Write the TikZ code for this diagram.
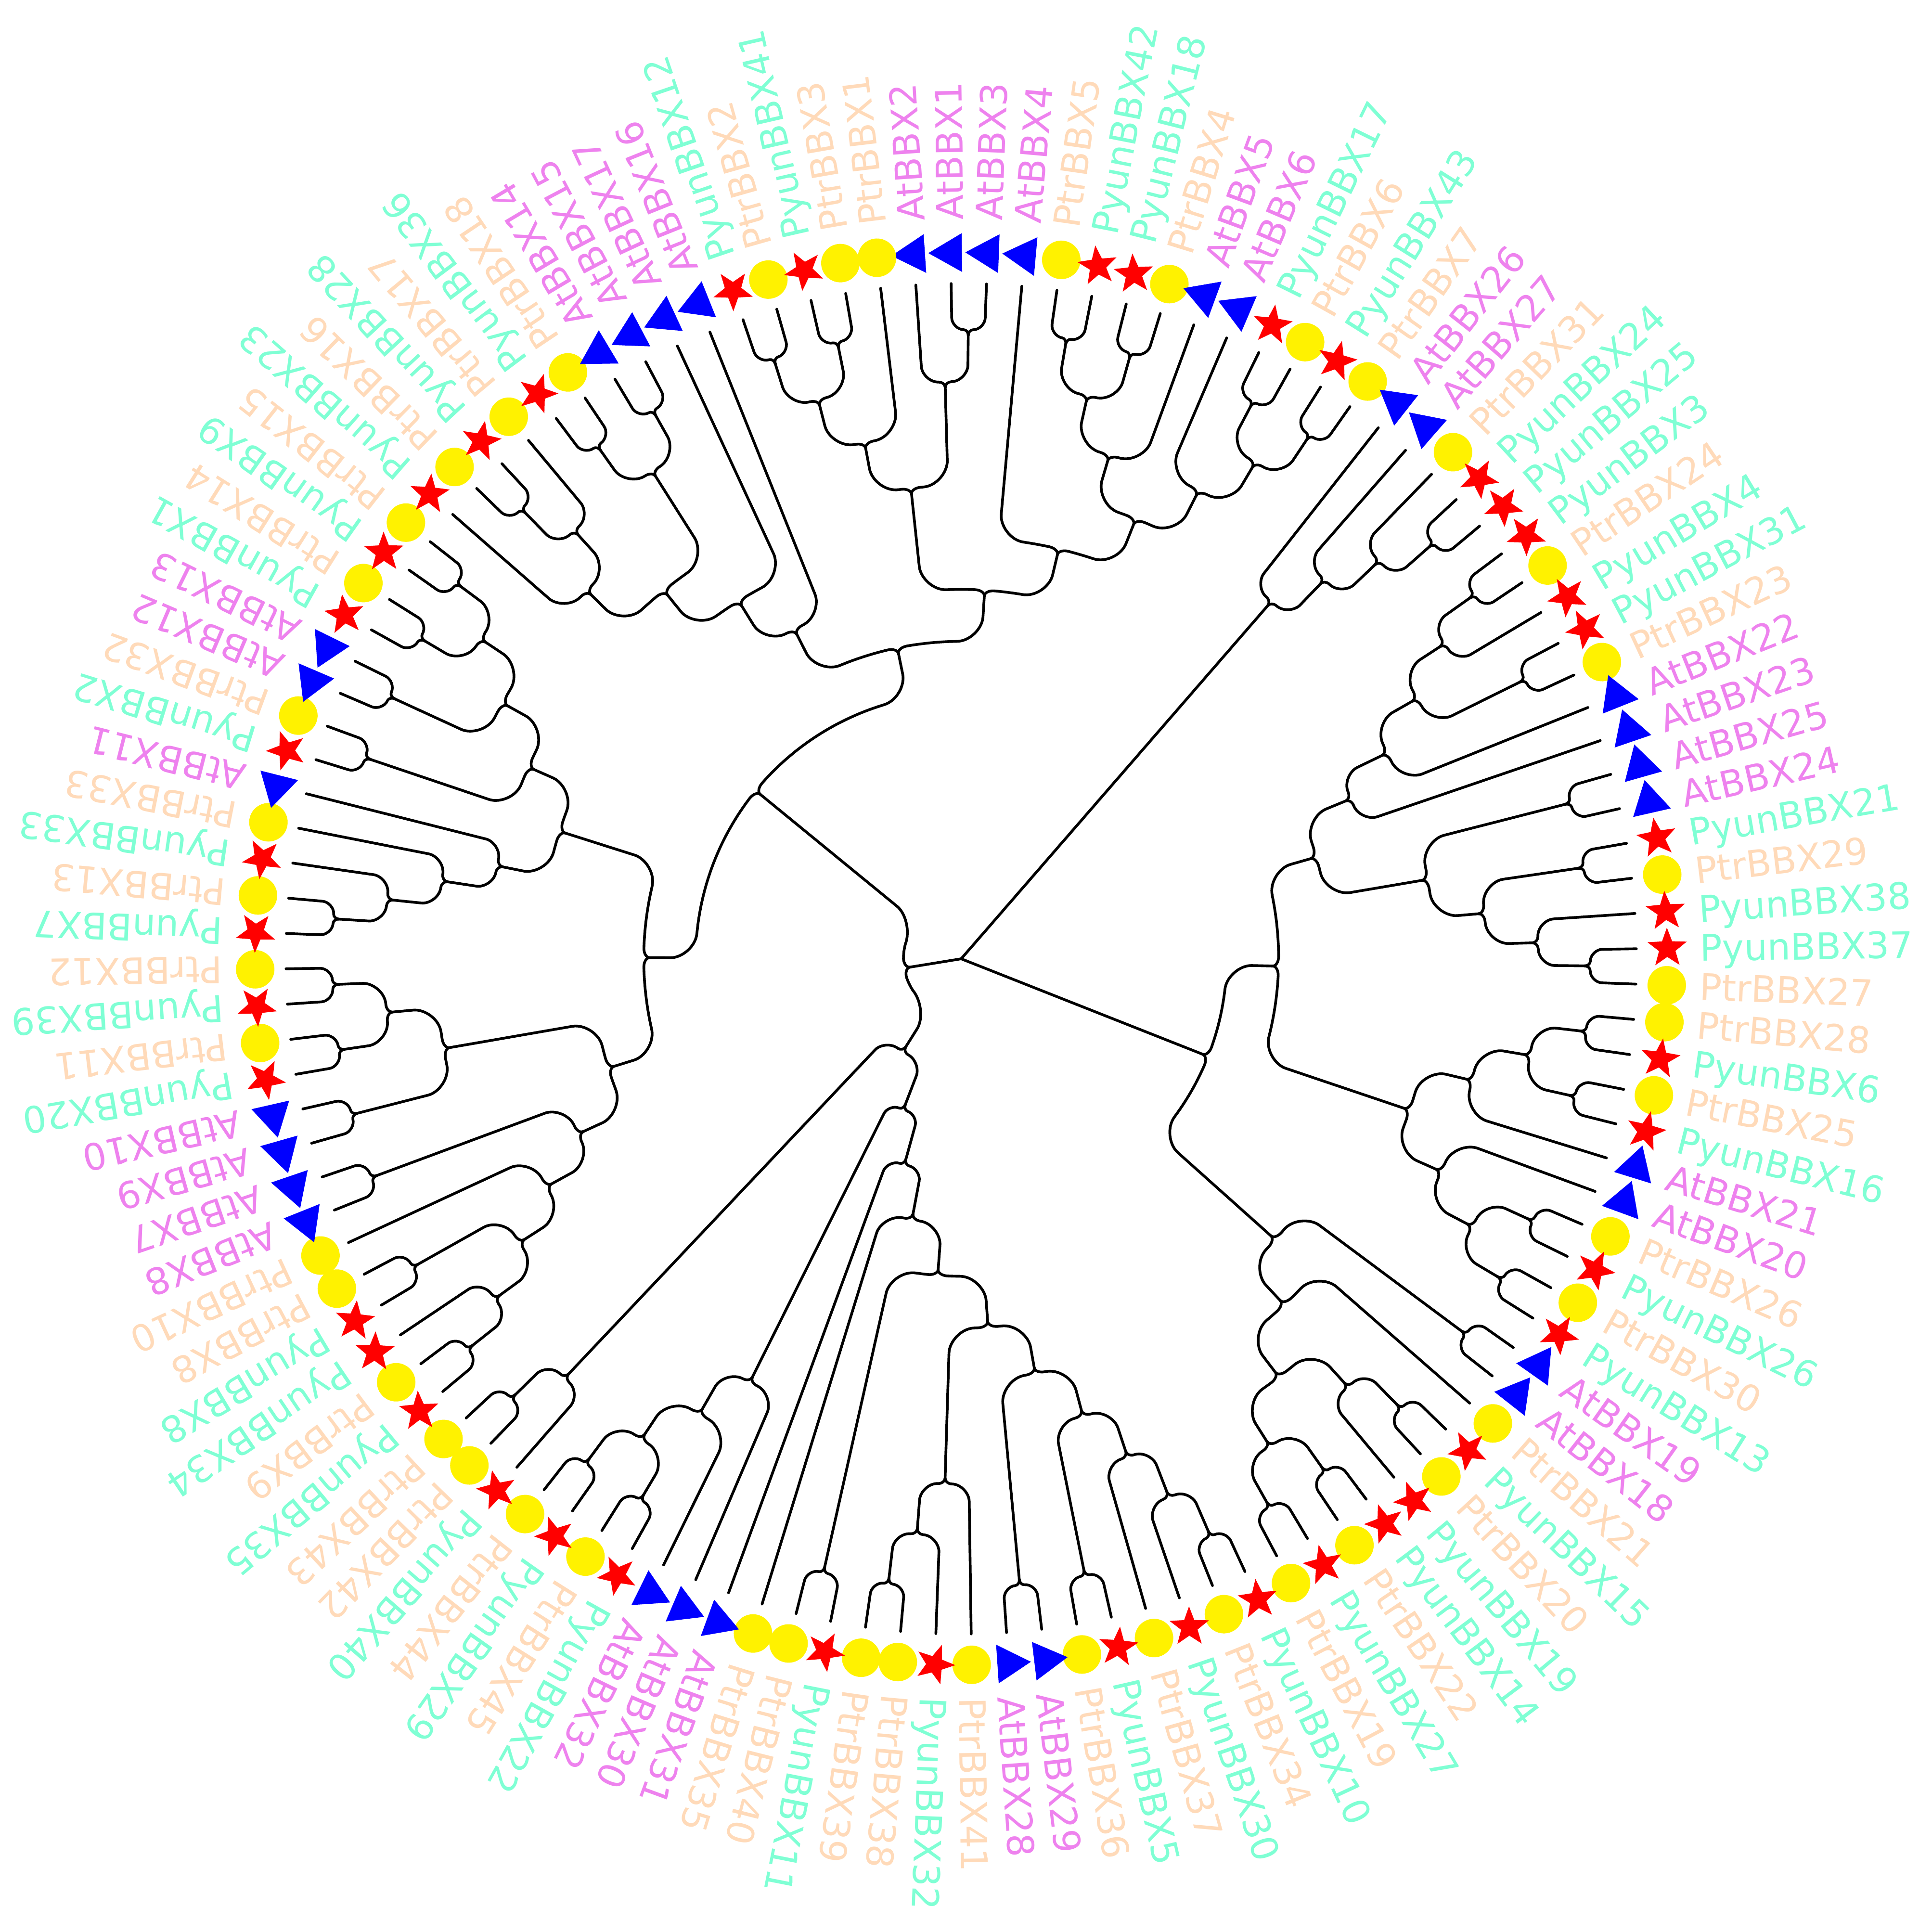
\documentclass[tikz,border=0pt]{standalone}
\usepackage{fontspec}
\setmainfont{DejaVu Sans}
\usetikzlibrary{shapes.geometric}
\definecolor{cola}{HTML}{EE82EE}
\definecolor{colp}{HTML}{FFDAB9}
\definecolor{coly}{HTML}{7FFFD4}
\newcommand\TRang[1]{\csname tra-#1\endcsname}
\newcommand\TRhgt[1]{\csname trh-#1\endcsname}
\newcommand\TRrad[1]{\csname trr-#1\endcsname}
\newcommand\TRleaf[3]{%
  \expandafter\xdef\csname tra-l#1\endcsname{\fpeval{96.85-3*(#1+120*(#1<15))}}%
  \expandafter\xdef\csname trh-l#1\endcsname{0}%
  \expandafter\xdef\csname trr-l#1\endcsname{14.03}%
  \coordinate (l#1) at (\TRang{l#1}:14.03);
  \node[mk#2, rotate=\TRang{l#1}] (m#1) at (\TRang{l#1}:14.67) {};
  \node[lab, text=col#2, rotate=\TRang{l#1}] (t#1) at (\TRang{l#1}:15.35) {#3};
}
\newcommand\TRedge[2]{%
  \edef\TRtp{\TRang{#1}}\edef\TRrp{\TRrad{#1}}\edef\TRtc{\TRang{#2}}%
  \edef\TRs{\fpeval{sign(\TRtc-\TRtp)}}%
  \edef\TRre{\fpeval{\TRrp+0.12}}%
  \edef\TRL{\fpeval{abs(\TRtc-\TRtp)*pi/180*\TRre}}%
  \edef\TRk{\fpeval{min(1,\TRL/0.72)}}%
  \edef\TRca{\fpeval{0.2*\TRk}}%
  \edef\TRdd{\fpeval{0.52*\TRk}}%
  \edef\TRa{\fpeval{\TRtp+\TRs*\TRca/\TRre*180/pi}}%
  \edef\TRam{\fpeval{\TRtp+\TRs*\TRca*0.45/\TRre*180/pi}}%
  \edef\TRb{\fpeval{\TRtc-\TRs*\TRdd/\TRre*180/pi}}%
  \edef\TRbm{\fpeval{\TRtc-\TRs*\TRdd*0.45/\TRre*180/pi}}%
  \edef\TRrm{\fpeval{\TRre+\TRdd*0.55}}%
  \edef\TRrq{\fpeval{\TRre+\TRdd}}%
  \edef\TRrs{\fpeval{\TRrp+0.066}}%
  \ifnum\fpeval{\TRL>0.73}=1
    \draw[treeline] (#1) .. controls (\TRtp:\TRrs) and (\TRam:\TRre) .. (\TRa:\TRre) arc[start angle=\TRa, end angle=\TRb, radius=\TRre] .. controls (\TRbm:\TRre) and (\TRtc:\TRrm) .. (\TRtc:\TRrq) -- (#2);
  \else
    \draw[treeline] (#1) .. controls (\TRtp:\TRrs) and (\TRam:\TRre) .. (\TRa:\TRre) .. controls (\TRbm:\TRre) and (\TRtc:\TRrm) .. (\TRtc:\TRrq) -- (#2);
  \fi
}
\newcommand\TRnd[3]{%
  \expandafter\xdef\csname tra-#1\endcsname{\fpeval{(\TRang{#2}+\TRang{#3})/2}}%
  \expandafter\xdef\csname trh-#1\endcsname{\fpeval{max(\TRhgt{#2},\TRhgt{#3})+1}}%
  \expandafter\xdef\csname trr-#1\endcsname{\fpeval{14.03-1.0792*\TRhgt{#1}}}%
  \coordinate (#1) at (\TRang{#1}:\TRrad{#1});
  \TRedge{#1}{#2}\TRedge{#1}{#3}%
}
\tikzset{
 treeline/.style={line width=1.6pt, line cap=round, line join=round, black},
 mka/.style={regular polygon, regular polygon sides=3, fill=blue, draw=none, minimum size=0.93cm, inner sep=0pt},
 mkp/.style={circle, fill=yellow, draw=none, minimum size=0.8cm, inner sep=0pt},
 mky/.style={star, star points=5, star point ratio=2.4, fill=red, draw=none, minimum size=0.86cm, inner sep=0pt},
 lab/.style={anchor=west, inner sep=0pt, font=\fontsize{21.7}{26}\selectfont, text height=15.8pt, text depth=0pt}
}
\begin{document}
\begin{tikzpicture}
\fill[white] (-19.97,-19.96) rectangle (20.17,19.92);
\useasboundingbox (-19.97,-19.96) rectangle (20.17,19.92);
\TRleaf{1}{a}{AtBBX2}
\TRleaf{2}{a}{AtBBX1}
\TRleaf{3}{a}{AtBBX3}
\TRleaf{4}{a}{AtBBX4}
\TRleaf{5}{p}{PtrBBX5}
\TRleaf{6}{y}{PyunBBX42}
\TRleaf{7}{y}{PyunBBX18}
\TRleaf{8}{p}{PtrBBX4}
\TRleaf{9}{a}{AtBBX5}
\TRleaf{10}{a}{AtBBX6}
\TRleaf{11}{y}{PyunBBX17}
\TRleaf{12}{p}{PtrBBX6}
\TRleaf{13}{y}{PyunBBX43}
\TRleaf{14}{p}{PtrBBX7}
\TRleaf{15}{a}{AtBBX26}
\TRleaf{16}{a}{AtBBX27}
\TRleaf{17}{p}{PtrBBX31}
\TRleaf{18}{y}{PyunBBX24}
\TRleaf{19}{y}{PyunBBX25}
\TRleaf{20}{y}{PyunBBX3}
\TRleaf{21}{p}{PtrBBX24}
\TRleaf{22}{y}{PyunBBX4}
\TRleaf{23}{y}{PyunBBX31}
\TRleaf{24}{p}{PtrBBX23}
\TRleaf{25}{a}{AtBBX22}
\TRleaf{26}{a}{AtBBX23}
\TRleaf{27}{a}{AtBBX25}
\TRleaf{28}{a}{AtBBX24}
\TRleaf{29}{y}{PyunBBX21}
\TRleaf{30}{p}{PtrBBX29}
\TRleaf{31}{y}{PyunBBX38}
\TRleaf{32}{y}{PyunBBX37}
\TRleaf{33}{p}{PtrBBX27}
\TRleaf{34}{p}{PtrBBX28}
\TRleaf{35}{y}{PyunBBX6}
\TRleaf{36}{p}{PtrBBX25}
\TRleaf{37}{y}{PyunBBX16}
\TRleaf{38}{a}{AtBBX21}
\TRleaf{39}{a}{AtBBX20}
\TRleaf{40}{p}{PtrBBX26}
\TRleaf{41}{y}{PyunBBX26}
\TRleaf{42}{p}{PtrBBX30}
\TRleaf{43}{y}{PyunBBX13}
\TRleaf{44}{a}{AtBBX19}
\TRleaf{45}{a}{AtBBX18}
\TRleaf{46}{p}{PtrBBX21}
\TRleaf{47}{y}{PyunBBX15}
\TRleaf{48}{p}{PtrBBX20}
\TRleaf{49}{y}{PyunBBX19}
\TRleaf{50}{y}{PyunBBX14}
\TRleaf{51}{p}{PtrBBX22}
\TRleaf{52}{y}{PyunBBX27}
\TRleaf{53}{p}{PtrBBX19}
\TRleaf{54}{y}{PyunBBX10}
\TRleaf{55}{p}{PtrBBX34}
\TRleaf{56}{y}{PyunBBX30}
\TRleaf{57}{p}{PtrBBX37}
\TRleaf{58}{y}{PyunBBX5}
\TRleaf{59}{p}{PtrBBX36}
\TRleaf{60}{a}{AtBBX29}
\TRleaf{61}{a}{AtBBX28}
\TRleaf{62}{p}{PtrBBX41}
\TRleaf{63}{y}{PyunBBX32}
\TRleaf{64}{p}{PtrBBX38}
\TRleaf{65}{p}{PtrBBX39}
\TRleaf{66}{y}{PyunBBX11}
\TRleaf{67}{p}{PtrBBX40}
\TRleaf{68}{p}{PtrBBX35}
\TRleaf{69}{a}{AtBBX31}
\TRleaf{70}{a}{AtBBX30}
\TRleaf{71}{a}{AtBBX32}
\TRleaf{72}{y}{PyunBBX22}
\TRleaf{73}{p}{PtrBBX45}
\TRleaf{74}{y}{PyunBBX29}
\TRleaf{75}{p}{PtrBBX44}
\TRleaf{76}{y}{PyunBBX40}
\TRleaf{77}{p}{PtrBBX42}
\TRleaf{78}{p}{PtrBBX43}
\TRleaf{79}{y}{PyunBBX35}
\TRleaf{80}{p}{PtrBBX9}
\TRleaf{81}{y}{PyunBBX34}
\TRleaf{82}{y}{PyunBBX8}
\TRleaf{83}{p}{PtrBBX8}
\TRleaf{84}{p}{PtrBBX10}
\TRleaf{85}{a}{AtBBX8}
\TRleaf{86}{a}{AtBBX7}
\TRleaf{87}{a}{AtBBX9}
\TRleaf{88}{a}{AtBBX10}
\TRleaf{89}{y}{PyunBBX20}
\TRleaf{90}{p}{PtrBBX11}
\TRleaf{91}{y}{PyunBBX39}
\TRleaf{92}{p}{PtrBBX12}
\TRleaf{93}{y}{PyunBBX7}
\TRleaf{94}{p}{PtrBBX13}
\TRleaf{95}{y}{PyunBBX33}
\TRleaf{96}{p}{PtrBBX33}
\TRleaf{97}{a}{AtBBX11}
\TRleaf{98}{y}{PyunBBX2}
\TRleaf{99}{p}{PtrBBX32}
\TRleaf{100}{a}{AtBBX12}
\TRleaf{101}{a}{AtBBX13}
\TRleaf{102}{y}{PyunBBX1}
\TRleaf{103}{p}{PtrBBX14}
\TRleaf{104}{y}{PyunBBX9}
\TRleaf{105}{p}{PtrBBX15}
\TRleaf{106}{y}{PyunBBX23}
\TRleaf{107}{p}{PtrBBX16}
\TRleaf{108}{y}{PyunBBX28}
\TRleaf{109}{p}{PtrBBX17}
\TRleaf{110}{y}{PyunBBX36}
\TRleaf{111}{p}{PtrBBX18}
\TRleaf{112}{a}{AtBBX14}
\TRleaf{113}{a}{AtBBX15}
\TRleaf{114}{a}{AtBBX17}
\TRleaf{115}{a}{AtBBX16}
\TRleaf{116}{y}{PyunBBX12}
\TRleaf{117}{p}{PtrBBX2}
\TRleaf{118}{y}{PyunBBX41}
\TRleaf{119}{p}{PtrBBX3}
\TRleaf{120}{p}{PtrBBX1}
% top clade
\TRnd{c116}{l116}{l117}
\TRnd{c118}{l118}{l119}
\TRnd{n330}{c116}{c118}
\TRnd{n480}{n330}{l120}
\TRnd{c2}{l2}{l3}
\TRnd{n730}{l1}{c2}
\TRnd{n625}{n480}{n730}
\TRnd{c5}{l5}{l6}
\TRnd{c7}{l7}{l8}
\TRnd{n1175}{c5}{c7}
\TRnd{n1245}{n1175}{l9}
\TRnd{c11}{l11}{l12}
\TRnd{c13}{l13}{l14}
\TRnd{n135}{c11}{c13}
\TRnd{n1525}{l10}{n135}
\TRnd{n1325}{n1245}{n1525}
\TRnd{n1085}{l4}{n1325}
\TRnd{n855}{n625}{n1085}
\TRnd{c107}{l107}{l108}
\TRnd{n107}{c107}{l109}
\TRnd{nQ}{l106}{n107}
\TRnd{c110}{l110}{l111}
\TRnd{c112}{l112}{l113}
\TRnd{n110}{c110}{c112}
\TRnd{nX}{nQ}{n110}
\TRnd{N1}{nX}{l114}
\TRnd{N2}{N1}{l115}
\TRnd{N3}{N2}{n855}
% first root child
\TRnd{c18}{l18}{l19}
\TRnd{n520}{l17}{c18}
\TRnd{n355}{l16}{n520}
\TRnd{n190}{l15}{n355}
% right clade
\TRnd{c20}{l20}{l21}
\TRnd{n735}{c20}{l22}
\TRnd{c23}{l23}{l24}
\TRnd{n640}{n735}{c23}
\TRnd{n540}{n640}{l25}
\TRnd{n440}{n540}{l26}
\TRnd{c27}{l27}{l28}
\TRnd{c29}{l29}{l30}
\TRnd{c32}{l32}{l33}
\TRnd{n1020}{l31}{c32}
\TRnd{n840}{c29}{n1020}
\TRnd{n665}{c27}{n840}
\TRnd{n310}{n440}{n665}
\TRnd{c34}{l34}{l35}
\TRnd{c36}{l36}{l37}
\TRnd{n1000}{c34}{c36}
\TRnd{n810}{n1000}{l38}
\TRnd{c40}{l40}{l41}
\TRnd{c42}{l42}{l43}
\TRnd{nY}{c40}{c42}
\TRnd{n725}{l39}{nY}
\TRnd{n605}{n810}{n725}
\TRnd{n185}{n310}{n605}
\TRnd{c44}{l44}{l45}
\TRnd{c47}{l47}{l48}
\TRnd{n430}{c47}{l49}
\TRnd{c50}{l50}{l51}
\TRnd{c52}{l52}{l53}
\TRnd{n195}{c50}{c52}
\TRnd{n215}{n430}{n195}
\TRnd{n230}{l46}{n215}
\TRnd{n200}{c44}{n230}
\TRnd{nR}{n185}{n200}
% bottom clade
\TRnd{c54}{l54}{l55}
\TRnd{n1445}{c54}{l56}
\TRnd{n1310}{n1445}{l57}
\TRnd{c58}{l58}{l59}
\TRnd{n1165}{n1310}{c58}
\TRnd{c60}{l60}{l61}
\TRnd{n1015}{n1165}{c60}
\TRnd{c64}{l64}{l65}
\TRnd{n650}{l63}{c64}
\TRnd{n740b}{l62}{n650}
\TRnd{n865}{n1015}{n740b}
\TRnd{c66}{l66}{l67}
\TRnd{n715}{n865}{c66}
\TRnd{n630b}{n715}{l68}
\TRnd{n615b}{n630b}{l69}
\TRnd{c72}{l72}{l73}
\TRnd{c74}{l74}{l75}
\TRnd{n1350}{c72}{c74}
\TRnd{nZ}{l71}{n1350}
\TRnd{n125}{l70}{nZ}
\TRnd{n615}{n615b}{n125}
\TRnd{c77}{l77}{l78}
\TRnd{n1105}{l76}{c77}
\TRnd{n620}{n615}{n1105}
% left clade
\TRnd{c79}{l79}{l80}
\TRnd{n885}{c79}{l81}
\TRnd{c82}{l82}{l83}
\TRnd{n965}{n885}{c82}
\TRnd{n1060}{n965}{l84}
\TRnd{c85}{l85}{l86}
\TRnd{n1155}{n1060}{c85}
\TRnd{c87}{l87}{l88}
\TRnd{c89}{l89}{l90}
\TRnd{c91}{l91}{l92}
\TRnd{n545}{c89}{c91}
\TRnd{n740}{c87}{n545}
\TRnd{n1255}{n1155}{n740}
\TRnd{c93}{l93}{l94}
\TRnd{n540L}{c93}{l95}
\TRnd{n725L}{n540L}{l96}
\TRnd{n890}{n725L}{l97}
\TRnd{c98}{l98}{l99}
\TRnd{c100}{l100}{l101}
\TRnd{c102}{l102}{l103}
\TRnd{c104}{l104}{l105}
\TRnd{n102}{c102}{c104}
\TRnd{nW}{c100}{n102}
\TRnd{n1000L}{c98}{nW}
\TRnd{n1100}{n890}{n1000L}
\TRnd{n1390}{n1255}{n1100}
\TRnd{n165}{n1390}{N3}
\TRnd{n630}{n620}{n165}
% root
\coordinate (root) at (0,0);
\draw[treeline] (root) -- (n190);
\draw[treeline] (root) -- (nR);
\draw[treeline] (root) -- (n630);
\end{tikzpicture}
\end{document}
